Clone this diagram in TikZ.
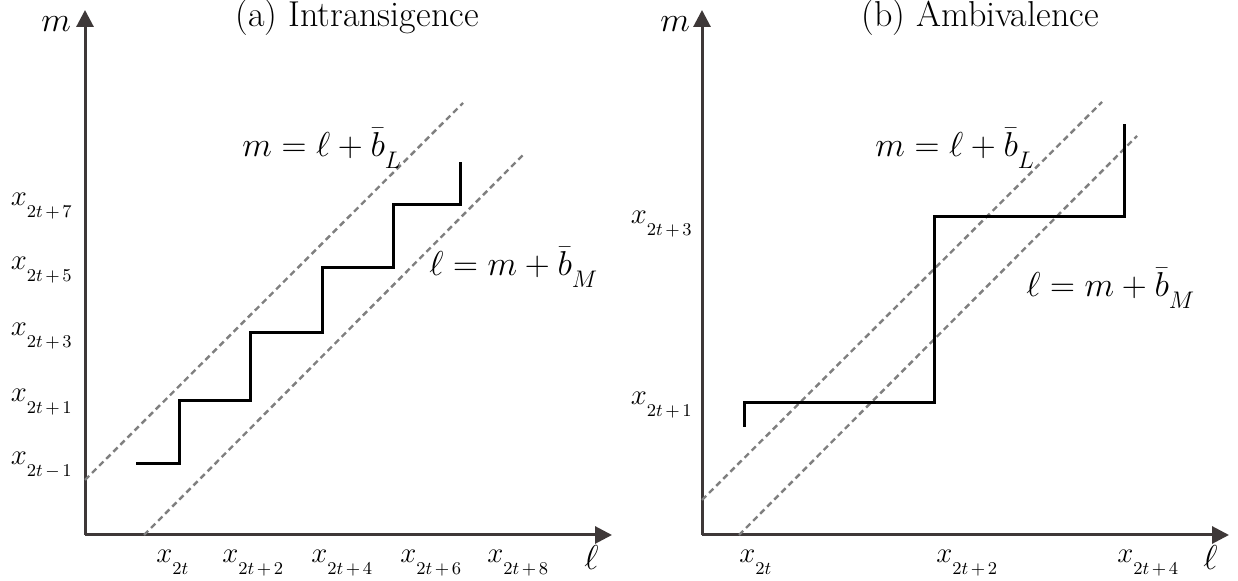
\documentclass[tikz,border=0pt]{standalone}
\usetikzlibrary{arrows.meta}
\newcommand{\lsub}[1]{_{\raisebox{-3pt}{$\scriptstyle #1$}}}
\newcommand{\tsub}[1]{_{\raisebox{-3.5pt}{\fontsize{9.5}{11}\selectfont$#1$}}}
\newcommand{\xl}[1]{x\tsub{#1}}
\newcommand{\pl}{\mskip2.5mu{+}\mskip2.5mu}
\newcommand{\mi}{\mskip2.5mu{-}\mskip2.5mu}
\definecolor{axiscol}{HTML}{3E3838}
\definecolor{dashcol}{HTML}{7F7F7F}
\tikzset{
  axis/.style={draw=axiscol, line width=1.5pt, -{Triangle[length=8.5pt,width=8.5pt]}},
  guide/.style={draw=dashcol, line width=1.2pt, dash pattern=on 3pt off 2pt},
  stair/.style={draw=black, line width=1.5pt},
  lab/.style={inner sep=0pt, font=\fontsize{15}{18}\selectfont},
  formula/.style={inner sep=0pt, font=\fontsize{17}{20}\selectfont},
  ttl/.style={inner sep=0pt, font=\fontsize{18}{21}\selectfont},
}
\begin{document}
\begin{tikzpicture}[x=0.5pt,y=-0.5pt]
\useasboundingbox (0,0) rectangle (1238,581);
% ---------- panel (a) ----------
\coordinate (aO) at (85,535);
\coordinate (aY) at (85,10);
\coordinate (aX) at (612,535);
\draw[axis] (aO) -- (aY);
\draw[axis] (aO) -- (aX);
\node[formula, anchor=base west] (am) at (41,32) {$m$};
\node[formula, anchor=base west] (al) at (584,570) {$\ell$};
\node[ttl, anchor=base west] (atitle) at (235,27) {(a) Intransigence};
% dashed guides
\coordinate (aU1) at (85,480);
\coordinate (aU2) at (463,103);
\coordinate (aL1) at (144,535);
\coordinate (aL2) at (524,154);
\draw[guide] (aU1) -- (aU2);
\draw[guide] (aL1) -- (aL2);
% staircase
\draw[stair] (136,464) -- (179,464) -- (179,401) -- (250,401) -- (250,333)
  -- (322,333) -- (322,268) -- (393,268) -- (393,205) -- (460,205) -- (460,162);
% y labels
\node[lab, anchor=base east] (ay7) at (73,206) {$\xl{2t\pl7}$};
\node[lab, anchor=base east] (ay5) at (73,270) {$\xl{2t\pl5}$};
\node[lab, anchor=base east] (ay3) at (73,336) {$\xl{2t\pl3}$};
\node[lab, anchor=base east] (ay1) at (73,402) {$\xl{2t\pl1}$};
\node[lab, anchor=base east] (aym) at (73,465) {$\xl{2t\mi1}$};
% x labels
\node[lab, anchor=base west] (ax0) at (156,563) {$\xl{2t}$};
\node[lab, anchor=base west] (ax2) at (222,563) {$\xl{2t\pl2}$};
\node[lab, anchor=base west] (ax4) at (311,563) {$\xl{2t\pl4}$};
\node[lab, anchor=base west] (ax6) at (400,563) {$\xl{2t\pl6}$};
\node[lab, anchor=base west] (ax8) at (487,563) {$\xl{2t\pl8}$};
% formulas
\node[formula, anchor=base west] (afL) at (242,157) {$m = \ell + \bar{b}\lsub{L}$};
\node[formula, anchor=base west] (afM) at (429,276) {$\ell = m + \bar{b}\lsub{M}$};
% ---------- panel (b) ----------
\coordinate (bO) at (702,535);
\coordinate (bY) at (702,10);
\coordinate (bX) at (1229,535);
\draw[axis] (bO) -- (bY);
\draw[axis] (bO) -- (bX);
\node[formula, anchor=base west] (bm) at (660,32) {$m$};
\node[formula, anchor=base west] (bl) at (1203,570) {$\ell$};
\node[ttl, anchor=base west] (btitle) at (861,27) {(b) Ambivalence};
\coordinate (bU1) at (702,500);
\coordinate (bU2) at (1102,102);
\coordinate (bL1) at (739,535);
\coordinate (bL2) at (1137,136);
\draw[guide] (bU1) -- (bU2);
\draw[guide] (bL1) -- (bL2);
\draw[stair] (744,427) -- (744,403) -- (934,403) -- (934,217) -- (1124,217) -- (1124,124);
\node[lab, anchor=base east] (by3) at (693,224) {$\xl{2t\pl3}$};
\node[lab, anchor=base east] (by1) at (693,405) {$\xl{2t\pl1}$};
\node[lab, anchor=base west] (bx0) at (739,563) {$\xl{2t}$};
\node[lab, anchor=base west] (bx2) at (936,563) {$\xl{2t\pl2}$};
\node[lab, anchor=base west] (bx4) at (1117,563) {$\xl{2t\pl4}$};
\node[formula, anchor=base west] (bfL) at (875,157) {$m = \ell + \bar{b}\lsub{L}$};
\node[formula, anchor=base west] (bfM) at (1026,297) {$\ell = m + \bar{b}\lsub{M}$};
\end{tikzpicture}
\end{document}
